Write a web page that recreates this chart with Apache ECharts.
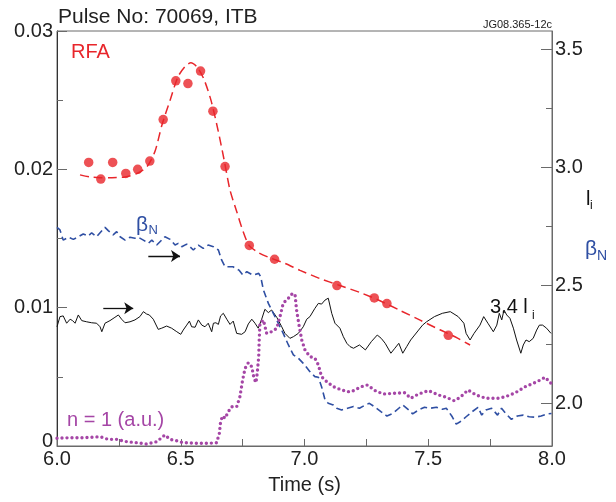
<!DOCTYPE html>
<html>
<head>
<meta charset="utf-8">
<script src="https://cdn.jsdelivr.net/npm/echarts@6/dist/echarts.min.js"></script>
<style>
  html, body { margin: 0; padding: 0; background: #fff; }
  #chart { width: 616px; height: 502px; }
</style>
</head>
<body>
<div id="chart"></div>
<script>
// Pulse 70069 (ITB): RFA amplitude, n = 1 mode amplitude, beta_N and 3.4*l_i vs time

// RFA measurements (left axis)
const rfaTime  = [6.128, 6.177, 6.225, 6.278, 6.326, 6.375, 6.429, 6.480, 6.529, 6.580, 6.630, 6.679, 6.777, 6.879, 7.131, 7.282, 7.333, 7.581];
const rfaValue = [0.0205, 0.0193, 0.0205, 0.0197, 0.0200, 0.0206, 0.0236, 0.0264, 0.0262, 0.0271, 0.0242, 0.0202, 0.0145, 0.0135, 0.0116, 0.0107, 0.0103, 0.0080];

// RFA fitted trend (left axis)
const rfaFitTime  = [6.093, 6.133, 6.174, 6.222, 6.275, 6.323, 6.364, 6.396, 6.424, 6.457, 6.489, 6.521, 6.541, 6.566, 6.594, 6.622, 6.651, 6.675, 6.699, 6.727, 6.752, 6.776, 6.812, 6.861, 6.921, 6.982, 7.063, 7.143, 7.224, 7.305, 7.386, 7.467, 7.547, 7.608, 7.669];
const rfaFitValue = [0.0196, 0.01945, 0.0194, 0.0194, 0.01945, 0.0197, 0.0202, 0.0213, 0.0232, 0.0250, 0.0267, 0.0275, 0.0277, 0.0274, 0.0265, 0.0250, 0.0228, 0.0207, 0.0185, 0.0169, 0.0155, 0.0145, 0.0140, 0.0136, 0.0132, 0.0127, 0.0121, 0.0116, 0.0111, 0.0105, 0.0098, 0.0091, 0.0084, 0.0079, 0.0073];

// 3.4 l_i (right axis)
const liTime = [6.000,6.012,6.025,6.039,6.053,6.063,6.073,6.086,6.100,6.120,
  6.140,6.160,6.174,6.181,6.194,6.214,6.234,6.248,6.261,6.275,
  6.295,6.315,6.335,6.349,6.362,6.373,6.389,6.409,6.423,6.443,
  6.463,6.484,6.500,6.510,6.524,6.535,6.544,6.558,6.571,6.585,
  6.598,6.611,6.625,6.632,6.642,6.652,6.661,6.672,6.686,6.699,
  6.712,6.726,6.746,6.760,6.773,6.787,6.800,6.813,6.827,6.840,
  6.854,6.867,6.888,6.908,6.921,6.941,6.955,6.975,6.995,7.009,
  7.022,7.042,7.056,7.069,7.083,7.096,7.110,7.123,7.143,7.157,
  7.171,7.184,7.198,7.222,7.246,7.270,7.294,7.310,7.326,7.349,
  7.365,7.381,7.397,7.413,7.429,7.445,7.461,7.477,7.493,7.525,
  7.557,7.589,7.621,7.644,7.653,7.669,7.685,7.709,7.724,7.741,
  7.763,7.777,7.787,7.797,7.806,7.817,7.830,7.844,7.857,7.874,
  7.884,7.895,7.908,7.924,7.938,7.949,7.962,7.978,7.996];
const liValue = [2.324,2.367,2.370,2.339,2.356,2.350,2.339,2.374,2.350,2.345,
  2.341,2.339,2.324,2.303,2.339,2.350,2.364,2.374,2.356,2.341,
  2.345,2.353,2.367,2.388,2.378,2.374,2.356,2.313,2.318,2.327,
  2.318,2.303,2.292,2.310,2.331,2.348,2.324,2.322,2.353,2.331,
  2.324,2.339,2.303,2.339,2.341,2.334,2.370,2.381,2.356,2.334,
  2.348,2.296,2.292,2.303,2.336,2.356,2.339,2.318,2.356,2.398,
  2.384,2.395,2.364,2.324,2.296,2.275,2.282,2.296,2.324,2.356,
  2.367,2.402,2.423,2.420,2.437,2.445,2.381,2.339,2.318,2.282,
  2.254,2.240,2.233,2.247,2.226,2.261,2.289,2.275,2.254,2.212,
  2.233,2.254,2.212,2.240,2.268,2.289,2.310,2.331,2.345,2.367,
  2.381,2.388,2.367,2.339,2.296,2.268,2.296,2.331,2.367,2.339,
  2.303,2.331,2.381,2.353,2.395,2.374,2.360,2.318,2.268,2.212,
  2.247,2.268,2.261,2.275,2.310,2.331,2.331,2.318,2.296];

// beta_N (right axis)
const betaTime = [6.000,6.012,6.025,6.046,6.066,6.086,6.106,6.126,6.140,6.160,
  6.174,6.194,6.207,6.227,6.241,6.255,6.275,6.295,6.315,6.328,
  6.349,6.369,6.383,6.403,6.423,6.436,6.457,6.477,6.490,6.504,
  6.524,6.537,6.551,6.571,6.591,6.611,6.632,6.652,6.665,6.679,
  6.711,6.735,6.751,6.767,6.791,6.815,6.823,6.834,6.854,6.874,
  6.894,6.914,6.935,6.955,6.975,6.995,7.022,7.042,7.056,7.069,
  7.083,7.096,7.116,7.130,7.150,7.174,7.198,7.222,7.246,7.262,
  7.286,7.310,7.333,7.358,7.381,7.397,7.421,7.437,7.461,7.485,
  7.509,7.533,7.557,7.573,7.597,7.613,7.629,7.653,7.677,7.701,
  7.716,7.733,7.756,7.780,7.796,7.812,7.836,7.860,7.884,7.908,
  7.932,7.956,7.980,7.998];
const betaValue = [2.745,2.734,2.691,2.703,2.694,2.705,2.717,2.708,2.722,2.705,
  2.722,2.745,2.731,2.713,2.727,2.705,2.691,2.703,2.699,2.703,
  2.691,2.677,2.691,2.670,2.691,2.705,2.694,2.670,2.677,2.663,
  2.674,2.663,2.649,2.670,2.656,2.670,2.663,2.649,2.607,2.578,
  2.578,2.564,2.543,2.557,2.543,2.550,2.536,2.480,2.423,2.381,
  2.339,2.296,2.247,2.205,2.191,2.169,2.134,2.113,2.110,2.070,
  2.014,2.000,1.993,1.979,1.972,1.979,1.986,1.979,1.993,2.000,
  1.983,1.964,1.946,1.958,1.979,1.993,1.972,1.955,1.972,1.983,
  1.979,1.983,1.975,1.979,1.943,1.912,1.922,1.943,1.964,1.983,
  1.950,1.972,1.979,1.950,1.979,1.958,1.932,1.946,1.950,1.943,
  1.941,1.946,1.955,1.957];

// n = 1 mode amplitude, arbitrary units (left axis)
const n1Time = [6.000,6.053,6.106,6.174,6.207,6.241,6.282,6.322,6.362,6.403,
  6.436,6.457,6.484,6.510,6.564,6.618,6.645,6.656,6.661,6.669,
  6.679,6.692,6.706,6.726,6.739,6.750,6.760,6.773,6.787,6.796,
  6.804,6.809,6.815,6.817,6.820,6.834,6.847,6.867,6.888,6.901,
  6.914,6.935,6.952,6.962,6.968,6.979,6.989,7.002,7.022,7.042,
  7.056,7.069,7.090,7.116,7.143,7.171,7.190,7.230,7.254,7.286,
  7.318,7.365,7.405,7.429,7.461,7.501,7.541,7.573,7.605,7.629,
  7.661,7.693,7.733,7.780,7.812,7.852,7.892,7.940,7.972,7.996];
const n1Value = [0.00056,0.00060,0.00060,0.00067,0.00048,0.00048,0.00031,0.00024,0.00014,0.00031,
  0.00080,0.00048,0.00038,0.00024,0.00020,0.00020,0.00024,0.00092,0.00176,0.00217,
  0.00200,0.00248,0.00284,0.00284,0.00356,0.00477,0.00562,0.00602,0.00573,0.00489,
  0.00458,0.00526,0.00646,0.00766,0.00887,0.00911,0.00815,0.00826,0.00851,0.00935,
  0.01032,0.01068,0.01104,0.01092,0.00983,0.00862,0.00766,0.00694,0.00646,0.00634,
  0.00586,0.00501,0.00465,0.00429,0.00410,0.00393,0.00393,0.00429,0.00441,0.00400,
  0.00376,0.00381,0.00385,0.00345,0.00376,0.00400,0.00369,0.00352,0.00327,0.00352,
  0.00405,0.00369,0.00345,0.00345,0.00356,0.00385,0.00429,0.00465,0.00497,0.00453];

// Axis ticks
const timeTicks = [6.0, 6.5, 7.0, 7.5, 8.0];
const rightMajorTicks = [2.0, 2.5, 3.0, 3.5];
const rightMinorTicks = [2.25, 2.75, 3.25];

const FONT = '"Liberation Sans", Arial, Helvetica, sans-serif';
const RED = '#e8262b';
const BLUE = '#2f4fa3';
const PURPLE = '#a546a6';
const AXIS = '#6a6a6a';
const TEXT = '#222';

const zip = (a, b) => a.map((v, i) => [v, b[i]]);

const chart = echarts.init(document.getElementById('chart'), null, { renderer: 'canvas' });

const rightMin = 1.8192, rightMax = 3.5762;

const txt = (x, y, text, size, color, align) => ({
  type: 'text', x: x, y: y, silent: true, z: 100,
  style: { text: text, fontSize: size, fontFamily: FONT, fill: color, align: align || 'left', verticalAlign: 'middle' }
});

chart.setOption({
  animation: false,
  backgroundColor: '#fff',
  grid: { left: 57, right: 64, top: 31, bottom: 56, show: true, borderColor: AXIS, borderWidth: 1 },
  xAxis: {
    type: 'value', min: 6, max: 8, interval: 0.5,
    axisLine: { lineStyle: { color: AXIS, width: 1 } },
    axisTick: { inside: true, length: 7, lineStyle: { color: AXIS } },
    minorTick: { show: true, splitNumber: 2, length: 7, lineStyle: { color: AXIS } },
    splitLine: { show: false },
    axisLabel: { customValues: timeTicks, formatter: v => v.toFixed(1), fontSize: 20, fontFamily: FONT, color: TEXT, margin: 3, showMaxLabel: true, showMinLabel: true },
    name: 'Time (s)', nameLocation: 'middle', nameGap: 29,
    nameTextStyle: { fontSize: 20, fontFamily: FONT, color: TEXT }
  },
  yAxis: [
    {
      type: 'value', position: 'left', min: 0, max: 0.03, interval: 0.01,
      axisLine: { show: true, lineStyle: { color: '#333', width: 1 } },
      axisTick: { show: true, inside: true, length: 10, lineStyle: { color: AXIS } },
      minorTick: { show: true, splitNumber: 2, length: 6, lineStyle: { color: AXIS } },
      splitLine: { show: false },
      axisLabel: {
        fontSize: 20, fontFamily: FONT, color: TEXT, margin: 4,
        formatter: v => (Math.abs(v) < 1e-9 ? '{z|0}' : v.toFixed(2)),
        rich: { z: { fontSize: 20, fontFamily: FONT, color: TEXT, padding: [0, 0, 9, 0] } }
      }
    },
    {
      type: 'value', position: 'right', min: rightMin, max: rightMax,
      axisLine: { show: true, lineStyle: { color: AXIS, width: 1 } },
      axisTick: { show: true, inside: true, length: 11, customValues: rightMajorTicks, lineStyle: { color: AXIS } },
      splitLine: { show: false },
      axisLabel: { customValues: rightMajorTicks, formatter: v => v.toFixed(1), fontSize: 20, fontFamily: FONT, color: TEXT, margin: 3 }
    },
    {
      type: 'value', position: 'right', min: rightMin, max: rightMax,
      axisLine: { show: false },
      axisTick: { show: true, inside: true, length: 6, customValues: rightMinorTicks, lineStyle: { color: AXIS } },
      splitLine: { show: false },
      axisLabel: { show: false }
    }
  ],
  series: [
    {
      name: '3.4 li', type: 'line', yAxisIndex: 1, data: zip(liTime, liValue),
      symbol: 'none', lineStyle: { color: '#111', width: 1 }, z: 3, silent: true,
      markLine: {
        silent: true, symbol: ['none', 'arrow'], symbolSize: 9,
        lineStyle: { color: '#111', width: 1.3, type: 'solid' },
        itemStyle: { color: '#111' },
        label: { show: false }, emphasis: { disabled: true },
        data: [
          [{ coord: [6.369, 2.624] }, { coord: [6.497, 2.624] }],
          [{ coord: [6.187, 2.402] }, { coord: [6.308, 2.402] }]
        ]
      }
    },
    {
      name: 'betaN', type: 'line', yAxisIndex: 1, data: zip(betaTime, betaValue),
      symbol: 'none', lineStyle: { color: BLUE, width: 1.6, type: [7, 4] }, z: 4, silent: true
    },
    {
      name: 'n = 1', type: 'line', yAxisIndex: 0, data: zip(n1Time, n1Value),
      symbol: 'none', lineStyle: { color: PURPLE, width: 3.4, type: [0, 5], cap: 'round' }, z: 5, silent: true
    },
    {
      name: 'RFA fit', type: 'line', yAxisIndex: 0, data: zip(rfaFitTime, rfaFitValue),
      symbol: 'none', smooth: 0.25, lineStyle: { color: RED, width: 1.5, type: [9, 5] }, z: 6, silent: true
    },
    {
      name: 'RFA', type: 'scatter', yAxisIndex: 0, data: zip(rfaTime, rfaValue),
      symbol: 'circle', symbolSize: 9.5, itemStyle: { color: RED }, z: 7, silent: true
    }
  ],
  graphic: [
    txt(58, 17, 'Pulse No: 70069, ITB', 21, TEXT),
    txt(552, 25, 'JG08.365-12c', 11, TEXT, 'right'),
    txt(71, 52.5, 'RFA', 20, RED),
    txt(136, 225, 'β', 21, BLUE),
    txt(148.5, 230, 'N', 13, BLUE),
    txt(490, 307, '3.4 l', 20, '#111'),
    txt(532, 316, 'i', 12, '#111'),
    txt(586, 199, 'l', 20, '#111'),
    txt(590, 206, 'i', 12, '#111'),
    txt(585, 249, 'β', 21, BLUE),
    txt(597, 256, 'N', 14, BLUE),
    txt(67, 420, 'n = 1 (a.u.)', 20, PURPLE)
  ]
});
</script>
</body>
</html>
